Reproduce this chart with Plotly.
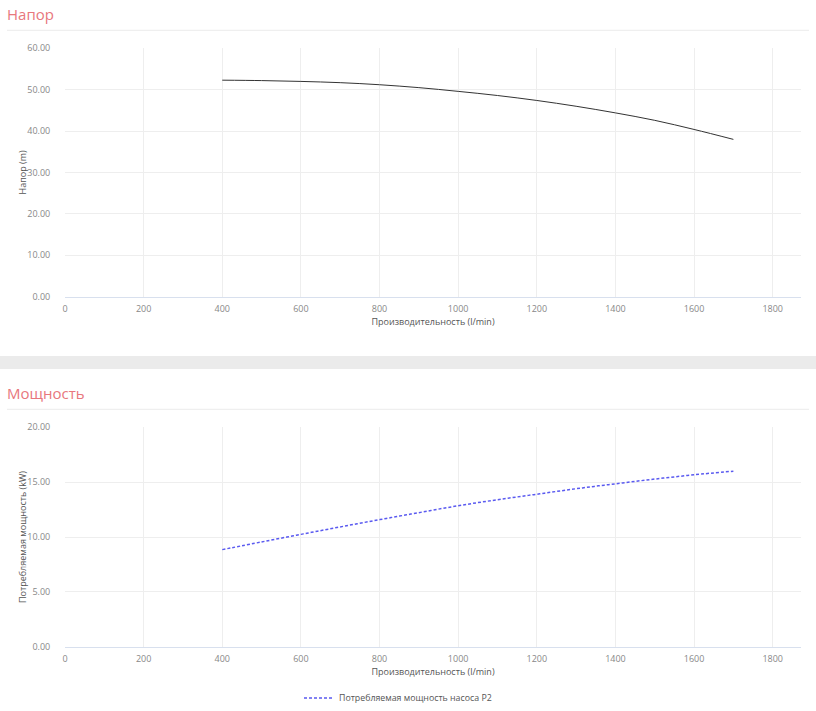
import plotly.graph_objects as go

# Q-H и Q-P2 кривые насоса
flow = [400, 500, 600, 700, 800, 900, 1000, 1100, 1200, 1300, 1400, 1500, 1600, 1700]
head = [52.3, 52.2, 52.0, 51.7, 51.2, 50.5, 49.6, 48.6, 47.4, 46.0, 44.4, 42.6, 40.4, 38.0]
power = [8.85, 9.55, 10.24, 10.92, 11.58, 12.22, 12.85, 13.4, 13.9, 14.4, 14.85, 15.28, 15.67, 16.0]

W, H = 816, 711
FONT = "Open Sans"

def px_x(p):
    return p / W

def px_y(p):
    return 1 - p / H

fig = go.Figure()

fig.add_trace(go.Scatter(
    x=flow, y=head, mode="lines", name="Напор",
    line=dict(color="#333333", width=1, shape="spline"),
    xaxis="x", yaxis="y", showlegend=False,
))
fig.add_trace(go.Scatter(
    x=flow, y=power, mode="lines", name="Потребляемая мощность насоса P2",
    line=dict(color="#5a5af0", width=1.5, dash="3px,2px", shape="spline"),
    xaxis="x2", yaxis="y2",
))

label_font = dict(family=FONT, size=9, color="#555555")

axis_common = dict(
    showgrid=True, gridcolor="#eeeeee", gridwidth=1, zeroline=False,
    tickfont=dict(family=FONT, size=9, color="#888888"),
    ticks="outside", tickcolor="rgba(0,0,0,0)", automargin=False,
)
x_common = dict(axis_common, range=[0, 1872], dtick=200, tick0=0, ticklen=3,
                showline=True, linecolor="#d8e0ee", linewidth=1,
                title=dict(text="Производительность (l/min)", standoff=5, font=label_font))

fig.update_layout(
    width=W, height=H,
    margin=dict(l=0, r=0, t=0, b=0, autoexpand=False),
    paper_bgcolor="white", plot_bgcolor="white",
    font=dict(family=FONT),
    xaxis=dict(x_common, domain=[px_x(65), px_x(801)], anchor="y"),
    yaxis=dict(axis_common, domain=[px_y(296.7), px_y(48.3)], anchor="x",
               range=[0, 60], dtick=10, tickformat=".2f", ticklen=12),
    xaxis2=dict(x_common, domain=[px_x(65), px_x(801)], anchor="y2"),
    yaxis2=dict(axis_common, domain=[px_y(646.7), px_y(427.3)], anchor="x2",
                range=[0, 20], dtick=5, tickformat=".2f", ticklen=12),
    legend=dict(orientation="h", x=px_x(299), xanchor="left", y=px_y(698), yanchor="middle",
                itemwidth=30, font=dict(family=FONT, size=8.8, color="#555555")),
    shapes=[
        dict(type="rect", xref="paper", yref="paper", x0=0, x1=1,
             y0=px_y(369), y1=px_y(356), fillcolor="#ebebeb", line=dict(width=0), layer="below"),
        dict(type="line", xref="paper", yref="paper", x0=px_x(7), x1=px_x(809),
             y0=px_y(30.3), y1=px_y(30.3), line=dict(color="#ececec", width=1)),
        dict(type="line", xref="paper", yref="paper", x0=px_x(7), x1=px_x(809),
             y0=px_y(409.3), y1=px_y(409.3), line=dict(color="#ececec", width=1)),
    ],
    annotations=[
        dict(text="Напор", xref="paper", yref="paper", x=px_x(5), y=px_y(14),
             xanchor="left", yanchor="middle", showarrow=False,
             font=dict(family=FONT, size=15, color="#e8777d")),
        dict(text="Мощность", xref="paper", yref="paper", x=px_x(5), y=px_y(393),
             xanchor="left", yanchor="middle", showarrow=False,
             font=dict(family=FONT, size=15, color="#e8777d")),
        dict(text="Напор (m)", xref="paper", yref="paper", x=px_x(22), y=px_y(172.5),
             xanchor="center", yanchor="middle", textangle=-90, showarrow=False,
             font=label_font),
        dict(text="Потребляемая мощность (kW)", xref="paper", yref="paper",
             x=px_x(22), y=px_y(537), xanchor="center", yanchor="middle",
             textangle=-90, showarrow=False, font=label_font),
    ],
)

fig.write_html("out.html", config={"displayModeBar": False},
               post_script="document.body.style.margin='0';")
